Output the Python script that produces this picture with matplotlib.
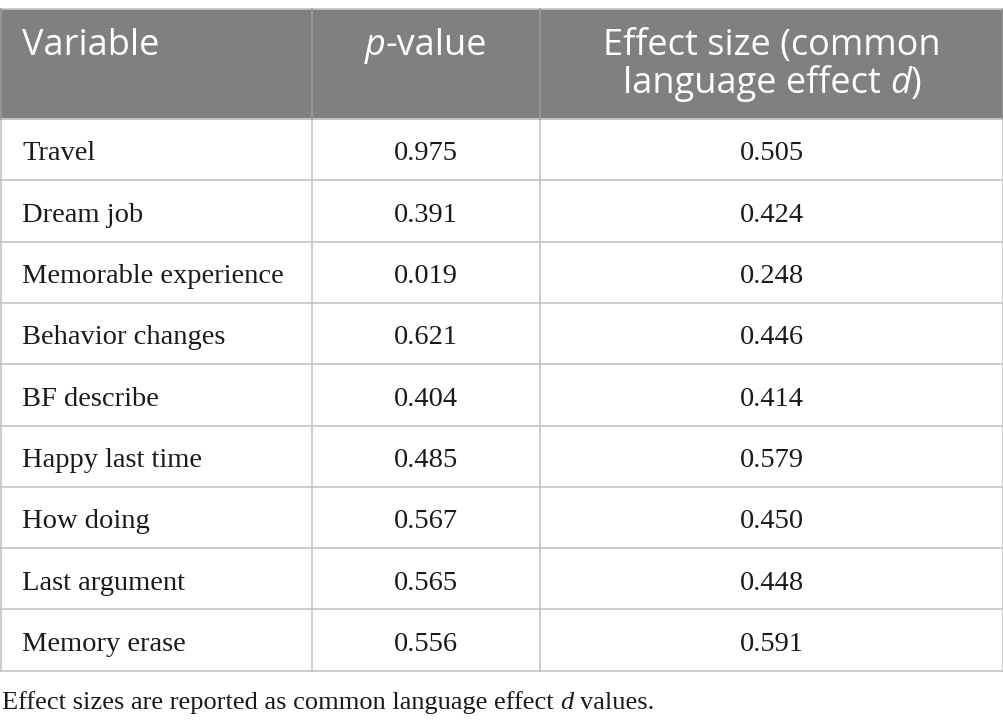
import matplotlib
matplotlib.use("Agg")
import matplotlib.pyplot as plt
from matplotlib.patches import Rectangle

# ---- data ----
variables = ["Travel", "Dream job", "Memorable experience", "Behavior changes",
             "BF describe", "Happy last time", "How doing", "Last argument",
             "Memory erase"]
p_values = ["0.975", "0.391", "0.019", "0.621", "0.404", "0.485", "0.567",
            "0.565", "0.556"]
effect_sizes = ["0.505", "0.424", "0.248", "0.446", "0.414", "0.579", "0.450",
                "0.448", "0.591"]
header_col1 = "Variable"
header_col2 = [("p", "italic"), ("-value", "normal")]
header_col3_l1 = [("Effect size (common", "normal")]
header_col3_l2 = [("language effect ", "normal"), ("d", "italic"), (")", "normal")]
footnote = [("Effect sizes are reported as common language effect ", "normal"),
            ("d", "italic"), (" values.", "normal")]

W, H = 1004, 727
fig = plt.figure(figsize=(W / 100, H / 100), dpi=100)
ax = fig.add_axes([0, 0, 1, 1])
ax.set_xlim(0, W)
ax.set_ylim(H, 0)
ax.axis("off")

HEAD_FONT = "Open Sans"
BODY_FONT = "Liberation Serif"
HEAD_SIZE = 26
BODY_SIZE = 20.5
FOOT_SIZE = 19

top = 8.5
head_bottom = 119
row_h = (670.7 - head_bottom) / len(variables)
x_div1, x_div2 = 311.7, 540
x_right = W

line_col = "#c4c4c4"
head_col = "#7f807f"

# header fill
ax.add_patch(Rectangle((0, top), W, head_bottom - top, facecolor=head_col,
                       edgecolor="none", zorder=1))
# borders
ax.plot([0, W], [top, top], color=line_col, lw=1.2, zorder=2)
ax.plot([0, W], [head_bottom, head_bottom], color=line_col, lw=1.4, zorder=2)
for i in range(1, len(variables) + 1):
    y = head_bottom + i * row_h
    ax.plot([0, W], [y, y], color=line_col, lw=1.2, zorder=2)
bottom = head_bottom + len(variables) * row_h
for x in (0.6, x_div1, x_div2, W - 0.6):
    ax.plot([x, x], [head_bottom, bottom], color=line_col, lw=1.2, zorder=2)
    ax.plot([x, x], [top, head_bottom], color="#9a9a9a", lw=1.2, zorder=2)

fig.canvas.draw()
renderer = fig.canvas.get_renderer()


def text_width(s, family, size, style):
    t = ax.text(0, 0, s, family=family, fontsize=size, style=style)
    w = t.get_window_extent(renderer).width
    t.remove()
    return w


def draw_pieces(pieces, x, y, family, size, color, align="left"):
    space_w = (text_width("x x", family, size, "normal")
               - text_width("xx", family, size, "normal"))
    widths = []
    for s, st in pieces:
        core = s.strip(" ")
        w = text_width(core, family, size, st) if core else 0
        lead = len(s) - len(s.lstrip(" "))
        trail = len(s) - len(s.rstrip(" "))
        widths.append((lead, w, trail))
    total = sum(l * space_w + w + t * space_w for l, w, t in widths)
    if align == "center":
        x = x - total / 2
    for (s, st), (lead, w, trail) in zip(pieces, widths):
        x += lead * space_w
        core = s.strip(" ")
        if core:
            ax.text(x, y, core, family=family, fontsize=size, style=st,
                    color=color, ha="left", va="baseline", zorder=3)
        x += w + trail * space_w


# header text
hb1, hb2 = 55, 93
ax.text(22, hb1, header_col1, family=HEAD_FONT, fontsize=HEAD_SIZE,
        color="white", ha="left", va="baseline", zorder=3)
draw_pieces(header_col2, (x_div1 + x_div2) / 2, hb1, HEAD_FONT, HEAD_SIZE,
            "white", align="center")
draw_pieces(header_col3_l1, (x_div2 + x_right) / 2, hb1, HEAD_FONT, HEAD_SIZE,
            "white", align="center")
draw_pieces(header_col3_l2, (x_div2 + x_right) / 2, hb2, HEAD_FONT, HEAD_SIZE,
            "white", align="center")

# body rows
for i, (v, p, e) in enumerate(zip(variables, p_values, effect_sizes)):
    yb = head_bottom + i * row_h + 41.5
    ax.text(22, yb, v, family=BODY_FONT, fontsize=BODY_SIZE, color="#1a1a1a",
            ha="left", va="baseline", zorder=3)
    ax.text((x_div1 + x_div2) / 2, yb, p, family=BODY_FONT, fontsize=BODY_SIZE,
            color="#1a1a1a", ha="center", va="baseline", zorder=3)
    ax.text((x_div2 + x_right) / 2, yb, e, family=BODY_FONT, fontsize=BODY_SIZE,
            color="#1a1a1a", ha="center", va="baseline", zorder=3)

# footnote
draw_pieces(footnote, 2, 709, BODY_FONT, FOOT_SIZE, "#1a1a1a")

fig.savefig("out.png", dpi=100, facecolor="white")
